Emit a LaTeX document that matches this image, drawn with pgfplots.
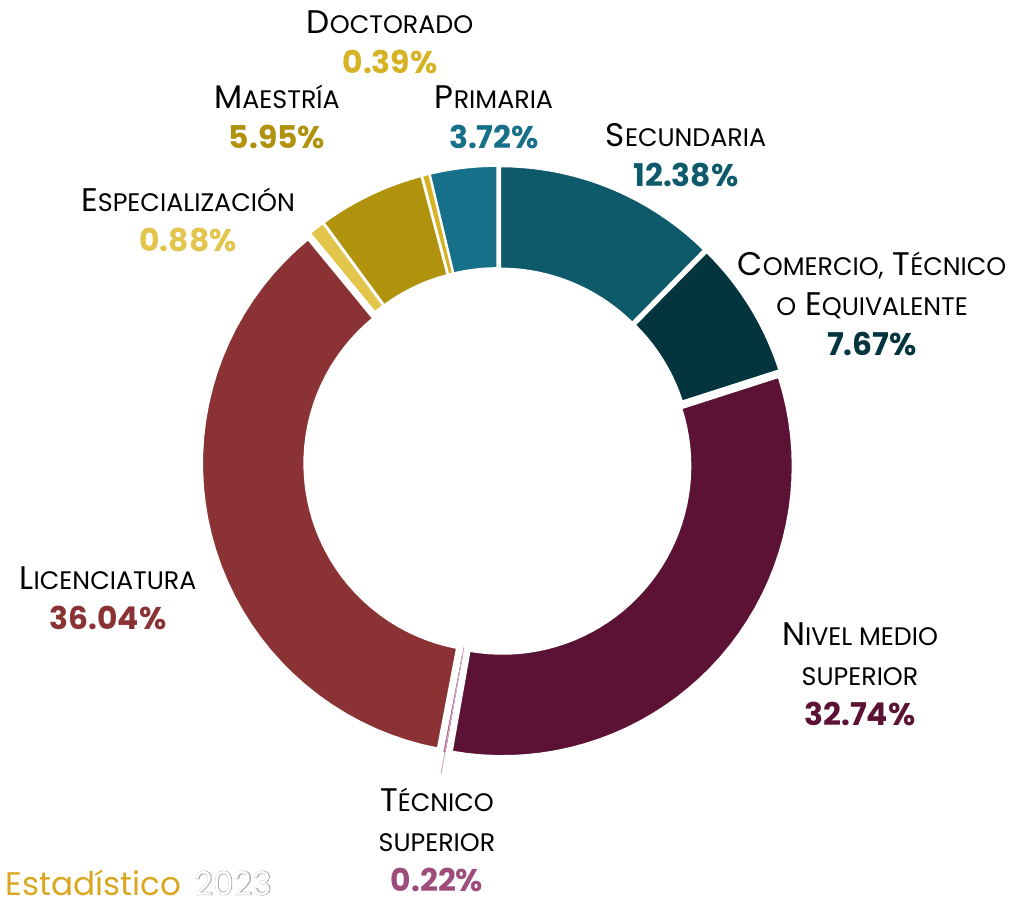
\documentclass[border=0pt]{standalone}
\usepackage{pgfplots}
\pgfplotsset{compat=1.18}
\usepackage{fontspec}
\setmainfont{Poppins}
\newfontfamily\fakebold{Poppins}[FakeBold=2.5]
\definecolor{cSec}{HTML}{0E5A6B}
\definecolor{cCom}{HTML}{04353F}
\definecolor{cNiv}{HTML}{5C1234}
\definecolor{cTec}{HTML}{9E4C7C}
\definecolor{cLic}{HTML}{8B3334}
\definecolor{cEsp}{HTML}{E2C54A}
\definecolor{cMae}{HTML}{B0920C}
\definecolor{cDoc}{HTML}{D6B324}
\definecolor{cPri}{HTML}{17708A}
\definecolor{cEst}{HTML}{D9A722}
\newcommand\Cp[1]{{\fontsize{9.8pt}{10.8pt}\selectfont #1}}
\newcommand\Sm[1]{{\fontsize{7.6pt}{10.8pt}\selectfont #1}}
\newcommand\Pc[2]{{\color{#1}\bfseries\fontsize{9.4pt}{10.8pt}\selectfont #2}}
% slice: color, cumulative start (%), share (%)
\newcommand\slice[3]{%
\addplot[fill=#1, draw=white, line width=0.5pt, samples at={0,1,...,40,100,101,...,140}, variable=\t]
({498 + 6*cos(90-3.6*(#2+#3/2)) + ((\t<70)*290+(\t>=70)*188)*cos(90-3.6*(#2+#3*((\t<70)*\t/40+(\t>=70)*(1-(\t-100)/40))))},
 {440 + 6*sin(90-3.6*(#2+#3/2)) + ((\t<70)*290+(\t>=70)*188)*sin(90-3.6*(#2+#3*((\t<70)*\t/40+(\t>=70)*(1-(\t-100)/40))))}) -- cycle;}
\begin{document}
\begin{tikzpicture}
\begin{axis}[x=0.3pt, y=0.3pt, xmin=0, xmax=1018, ymin=0, ymax=902,
  hide axis, clip=false]
\slice{cSec}{0}{12.38}
\slice{cCom}{12.38}{7.67}
\slice{cNiv}{20.05}{32.74}
\slice{cTec}{52.79}{0.22}
\slice{cLic}{53.01}{36.04}
\slice{cEsp}{89.05}{0.88}
\slice{cMae}{89.93}{5.95}
\slice{cDoc}{95.88}{0.39}
\slice{cPri}{96.27}{3.72}
\addplot[cTec!45, line width=0.3pt] coordinates {(464,255) (441,128)};
\node[align=center] at (390,860) {\Cp{D}\Sm{OCTORADO}\\\Pc{cDoc}{0.39\%}};
\node[align=center] at (277,785) {\Cp{M}\Sm{AESTRÍA}\\\Pc{cMae}{5.95\%}};
\node[align=center] at (494,785) {\Cp{P}\Sm{RIMARIA}\\\Pc{cPri}{3.72\%}};
\node[align=center] at (686,747) {\Cp{S}\Sm{ECUNDARIA}\\\Pc{cSec}{12.38\%}};
\node[align=center] at (188,682) {\Cp{E}\Sm{SPECIALIZACIÓN}\\\Pc{cEsp}{0.88\%}};
\node[align=center] at (872,598) {\Cp{C}\Sm{OMERCIO,} \Cp{T}\Sm{ÉCNICO}\\\Sm{O} \Cp{E}\Sm{QUIVALENTE}\\\Pc{cCom}{7.67\%}};
\node[align=center] at (108,304) {\Cp{L}\Sm{ICENCIATURA}\\\Pc{cLic}{36.04\%}};
\node[align=center] at (860,228) {\Cp{N}\Sm{IVEL MEDIO}\\\Sm{SUPERIOR}\\\Pc{cNiv}{32.74\%}};
\node[align=center] at (437,62) {\Cp{T}\Sm{ÉCNICO}\\\Sm{SUPERIOR}\\\Pc{cTec}{0.22\%}};
\node[anchor=base west, inner sep=0pt, font=\fontsize{9.8pt}{12pt}\selectfont] at (5,7)
  {\textcolor{cEst}{Estadístico}\hspace{4pt}\rlap{\fakebold\color{gray!70}2023}\textcolor{white}{2023}};
\end{axis}
\pgfresetboundingbox
\useasboundingbox (current axis.south west) rectangle (current axis.north east);
\end{tikzpicture}
\end{document}
